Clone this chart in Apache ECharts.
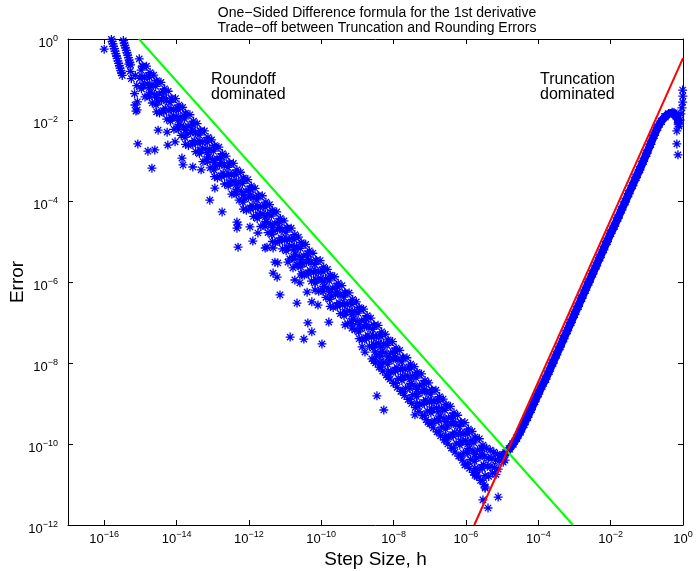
<!DOCTYPE html>
<html><head><meta charset="utf-8">
<script src="https://cdn.jsdelivr.net/npm/echarts@6/dist/echarts.min.js"></script>
<style>html,body{margin:0;padding:0;background:#fff}#c{width:698px;height:571px}</style>
</head><body><div id="c"></div>
<script>
// Values are decimal exponents: [log10(step size h), log10(error)]
// (the axes are logarithmic: 10^e)
const xTickExp = [-16,-14,-12,-10,-8,-6,-4,-2,0];
const yTickExp = [-12,-10,-8,-6,-4,-2,0];

const loneStar = [[-16.0,-0.25]];
const streakA = [[-15.8,-0.01],[-15.78,-0.06],[-15.76,-0.12],[-15.74,-0.18],[-15.72,-0.24],[-15.70,-0.30],[-15.68,-0.36],[-15.66,-0.42],[-15.64,-0.48],[-15.62,-0.54],[-15.60,-0.60],[-15.58,-0.66],[-15.56,-0.72],[-15.54,-0.78],[-15.52,-0.84],[-15.50,-0.9]];
const streakB = [[-15.47,-0.04],[-15.45,-0.1],[-15.43,-0.16],[-15.41,-0.22],[-15.39,-0.28],[-15.37,-0.34],[-15.35,-0.4],[-15.33,-0.46],[-15.31,-0.52],[-15.29,-0.58],[-15.27,-0.64]];
const roundStart = [[-15.32,-0.62],[-15.28,-0.8],[-15.25,-0.98],[-15.14,-0.9],[-15.1,-1.15],[-15.16,-1.35],[-15.08,-1.55],[-15.12,-1.78]];
const roundCore = [
[-15.03,-0.49],[-14.98,-0.77],[-15.01,-0.97],[-14.97,-1.23],
[-14.93,-0.67],[-14.88,-0.96],[-14.91,-1.15],[-14.87,-1.43],
[-14.83,-0.67],[-14.78,-0.9],[-14.81,-1.11],[-14.77,-1.37],
[-14.73,-0.83],[-14.68,-1.12],[-14.71,-1.31],[-14.67,-1.58],
[-14.63,-0.89],[-14.58,-1.17],[-14.61,-1.37],[-14.57,-1.63],
[-14.53,-1.07],[-14.48,-1.36],[-14.51,-1.55],[-14.47,-1.83],
[-14.43,-1.07],[-14.38,-1.3],[-14.41,-1.51],[-14.37,-1.77],
[-14.33,-1.23],[-14.28,-1.52],[-14.31,-1.71],[-14.27,-1.98],
[-14.23,-1.29],[-14.18,-1.57],[-14.21,-1.77],[-14.17,-2.03],
[-14.13,-1.47],[-14.08,-1.76],[-14.11,-1.95],[-14.07,-2.23],
[-14.03,-1.47],[-13.98,-1.7],[-14.01,-1.91],[-13.97,-2.17],
[-13.93,-1.63],[-13.88,-1.92],[-13.91,-2.11],[-13.87,-2.38],
[-13.83,-1.69],[-13.78,-1.97],[-13.81,-2.17],[-13.77,-2.43],
[-13.73,-1.87],[-13.68,-2.16],[-13.71,-2.35],[-13.67,-2.63],
[-13.63,-1.87],[-13.58,-2.1],[-13.61,-2.31],[-13.57,-2.57],
[-13.53,-2.03],[-13.48,-2.32],[-13.51,-2.51],[-13.47,-2.78],
[-13.43,-2.09],[-13.38,-2.37],[-13.41,-2.57],[-13.37,-2.83],
[-13.33,-2.27],[-13.28,-2.56],[-13.31,-2.75],[-13.27,-3.03],
[-13.23,-2.27],[-13.18,-2.5],[-13.21,-2.71],[-13.17,-2.97],
[-13.13,-2.43],[-13.08,-2.72],[-13.11,-2.91],[-13.07,-3.18],
[-13.03,-2.49],[-12.98,-2.77],[-13.01,-2.97],[-12.97,-3.23],
[-12.93,-2.67],[-12.88,-2.96],[-12.91,-3.15],[-12.87,-3.43],
[-12.83,-2.67],[-12.78,-2.9],[-12.81,-3.11],[-12.77,-3.37],
[-12.73,-2.83],[-12.68,-3.12],[-12.71,-3.31],[-12.67,-3.58],
[-12.63,-2.89],[-12.58,-3.17],[-12.61,-3.37],[-12.57,-3.63],
[-12.53,-3.07],[-12.48,-3.36],[-12.51,-3.55],[-12.47,-3.83],
[-12.43,-3.07],[-12.38,-3.3],[-12.41,-3.51],[-12.37,-3.77],
[-12.33,-3.23],[-12.28,-3.52],[-12.31,-3.71],[-12.27,-3.98],
[-12.23,-3.29],[-12.18,-3.57],[-12.21,-3.77],[-12.17,-4.03],
[-12.13,-3.47],[-12.08,-3.76],[-12.11,-3.95],[-12.07,-4.23],
[-12.03,-3.47],[-11.98,-3.7],[-12.01,-3.91],[-11.97,-4.17],
[-11.93,-3.63],[-11.88,-3.92],[-11.91,-4.11],[-11.87,-4.38],
[-11.83,-3.69],[-11.78,-3.97],[-11.81,-4.17],[-11.77,-4.43],
[-11.73,-3.87],[-11.68,-4.16],[-11.71,-4.35],[-11.67,-4.63],
[-11.63,-3.87],[-11.58,-4.1],[-11.61,-4.31],[-11.57,-4.57],
[-11.53,-4.03],[-11.48,-4.32],[-11.51,-4.51],[-11.47,-4.78],
[-11.43,-4.09],[-11.38,-4.37],[-11.41,-4.57],[-11.37,-4.83],
[-11.33,-4.27],[-11.28,-4.56],[-11.31,-4.75],[-11.27,-5.03],
[-11.23,-4.27],[-11.18,-4.5],[-11.21,-4.71],[-11.17,-4.97],
[-11.13,-4.43],[-11.08,-4.72],[-11.11,-4.91],[-11.07,-5.18],
[-11.03,-4.49],[-10.98,-4.77],[-11.01,-4.97],[-10.97,-5.23],
[-10.93,-4.67],[-10.88,-4.96],[-10.91,-5.15],[-10.87,-5.43],
[-10.83,-4.67],[-10.78,-4.9],[-10.81,-5.11],[-10.77,-5.37],
[-10.73,-4.83],[-10.68,-5.12],[-10.71,-5.31],[-10.67,-5.58],
[-10.63,-4.89],[-10.58,-5.17],[-10.61,-5.37],[-10.57,-5.63],
[-10.53,-5.07],[-10.48,-5.36],[-10.51,-5.55],[-10.47,-5.83],
[-10.43,-5.07],[-10.38,-5.3],[-10.41,-5.51],[-10.37,-5.77],
[-10.33,-5.23],[-10.28,-5.52],[-10.31,-5.71],[-10.27,-5.98],
[-10.23,-5.29],[-10.18,-5.57],[-10.21,-5.77],[-10.17,-6.03],
[-10.13,-5.47],[-10.08,-5.76],[-10.11,-5.95],[-10.07,-6.23],
[-10.03,-5.47],[-9.98,-5.7],[-10.01,-5.91],[-9.97,-6.17],
[-9.93,-5.63],[-9.88,-5.92],[-9.91,-6.11],[-9.87,-6.38],
[-9.83,-5.69],[-9.78,-5.97],[-9.81,-6.17],[-9.77,-6.43],
[-9.73,-5.87],[-9.68,-6.16],[-9.71,-6.35],[-9.67,-6.63],
[-9.63,-5.87],[-9.58,-6.1],[-9.61,-6.31],[-9.57,-6.57],
[-9.53,-6.03],[-9.48,-6.32],[-9.51,-6.51],[-9.47,-6.78],
[-9.43,-6.09],[-9.38,-6.37],[-9.41,-6.57],[-9.37,-6.83],
[-9.33,-6.27],[-9.28,-6.56],[-9.31,-6.75],[-9.27,-7.03],
[-9.23,-6.27],[-9.18,-6.5],[-9.21,-6.71],[-9.17,-6.97],
[-9.13,-6.43],[-9.08,-6.72],[-9.11,-6.91],[-9.07,-7.18],
[-9.03,-6.49],[-8.98,-6.77],[-9.01,-6.97],[-8.97,-7.23],
[-8.93,-6.67],[-8.88,-6.96],[-8.91,-7.15],[-8.87,-7.43],
[-8.83,-6.67],[-8.78,-6.9],[-8.81,-7.11],[-8.77,-7.37],
[-8.73,-6.83],[-8.68,-7.12],[-8.71,-7.31],[-8.67,-7.58],
[-8.63,-6.89],[-8.58,-7.17],[-8.61,-7.37],[-8.57,-7.63],[-8.6,-7.9],
[-8.53,-7.07],[-8.48,-7.36],[-8.51,-7.55],[-8.47,-7.83],[-8.5,-8.0],
[-8.43,-7.07],[-8.38,-7.3],[-8.41,-7.51],[-8.37,-7.77],[-8.4,-8.1],
[-8.33,-7.23],[-8.28,-7.52],[-8.31,-7.71],[-8.27,-7.98],[-8.3,-8.2],
[-8.23,-7.29],[-8.18,-7.57],[-8.21,-7.77],[-8.17,-8.03],[-8.2,-8.3],
[-8.13,-7.47],[-8.08,-7.76],[-8.11,-7.95],[-8.07,-8.23],[-8.1,-8.4],
[-8.03,-7.47],[-7.98,-7.7],[-8.01,-7.91],[-7.97,-8.17],[-8.0,-8.5],
[-7.93,-7.63],[-7.88,-7.92],[-7.91,-8.11],[-7.87,-8.38],[-7.9,-8.6],
[-7.83,-7.69],[-7.78,-7.97],[-7.81,-8.17],[-7.77,-8.43],[-7.8,-8.7],
[-7.73,-7.87],[-7.68,-8.16],[-7.71,-8.35],[-7.67,-8.63],[-7.7,-8.8],
[-7.63,-7.87],[-7.58,-8.1],[-7.61,-8.31],[-7.57,-8.57],[-7.6,-8.9],
[-7.53,-8.03],[-7.48,-8.32],[-7.51,-8.51],[-7.47,-8.78],[-7.5,-9.0],
[-7.43,-8.09],[-7.38,-8.37],[-7.41,-8.57],[-7.37,-8.83],[-7.4,-9.1],
[-7.33,-8.27],[-7.28,-8.56],[-7.31,-8.75],[-7.27,-9.03],[-7.3,-9.2],
[-7.23,-8.27],[-7.18,-8.5],[-7.21,-8.71],[-7.17,-8.97],[-7.2,-9.3],
[-7.13,-8.43],[-7.08,-8.72],[-7.11,-8.91],[-7.07,-9.18],[-7.1,-9.4],
[-7.03,-8.49],[-6.98,-8.77],[-7.01,-8.97],[-6.97,-9.23],[-7.0,-9.5],
[-6.93,-8.67],[-6.88,-8.96],[-6.91,-9.15],[-6.87,-9.43],[-6.9,-9.6],
[-6.83,-8.67],[-6.78,-8.9],[-6.81,-9.11],[-6.77,-9.37],[-6.8,-9.7],
[-6.73,-8.83],[-6.68,-9.12],[-6.71,-9.31],[-6.67,-9.58],[-6.7,-9.8],
[-6.63,-8.89],[-6.58,-9.17],[-6.61,-9.37],[-6.57,-9.63],[-6.6,-9.9],
[-6.53,-9.07],[-6.48,-9.36],[-6.51,-9.55],[-6.47,-9.83],[-6.5,-10.0],
[-6.43,-9.07],[-6.38,-9.3],[-6.41,-9.51],[-6.37,-9.77],[-6.4,-10.1],
[-6.33,-9.23],[-6.28,-9.52],[-6.31,-9.71],[-6.27,-9.98],[-6.3,-10.2],
[-6.23,-9.29],[-6.18,-9.57],[-6.21,-9.77],[-6.17,-10.03],[-6.2,-10.3],
[-6.13,-9.47],[-6.08,-9.76],[-6.11,-9.95],[-6.07,-10.23],[-6.1,-10.4],
[-6.03,-9.47],[-5.98,-9.7],[-6.01,-9.91],[-5.97,-10.17],[-6.0,-10.5],
[-5.93,-9.63],[-5.88,-9.92],[-5.91,-10.11],[-5.87,-10.38],[-5.9,-10.6],
[-5.83,-9.69],[-5.78,-9.97],[-5.81,-10.17],[-5.77,-10.43],[-5.8,-10.7],
[-5.73,-9.87],[-5.68,-10.16],[-5.71,-10.35],[-5.67,-10.63],[-5.7,-10.8],
[-5.63,-9.87],[-5.58,-10.1],[-5.61,-10.31],[-5.57,-10.57],[-5.6,-10.9],
[-5.53,-10.03],[-5.48,-10.32],[-5.51,-10.51],[-5.47,-10.78],[-5.5,-11.0],
[-5.43,-10.1],[-5.38,-10.35],[-5.41,-10.55],[-5.37,-10.8],
[-5.33,-10.15],[-5.28,-10.35],[-5.31,-10.55],[-5.27,-10.72],
[-5.23,-10.2],[-5.18,-10.4],[-5.21,-10.58],[-5.17,-10.75],
[-5.13,-10.25],[-5.08,-10.42],[-5.11,-10.62],
[-5.02,-10.3],[-4.97,-10.45],[-4.92,-10.4]
];
const roundFill = [
[-14.95,-0.67],[-14.95,-0.93],[-14.95,-1.15],
[-14.75,-0.95],[-14.75,-1.2],[-14.75,-1.43],
[-14.55,-1.03],[-14.55,-1.45],[-14.55,-1.8],
[-14.35,-1.31],[-14.35,-1.45],[-14.35,-1.8],
[-14.15,-1.47],[-14.15,-1.73],[-14.15,-1.95],
[-13.95,-1.75],[-13.95,-2.0],[-13.95,-2.23],
[-13.75,-1.83],[-13.75,-2.25],[-13.75,-2.6],
[-13.55,-2.11],[-13.55,-2.25],[-13.55,-2.6],
[-13.35,-2.27],[-13.35,-2.53],[-13.35,-2.75],
[-13.15,-2.55],[-13.15,-2.8],[-13.15,-3.03],
[-12.95,-2.63],[-12.95,-3.05],[-12.95,-3.4],
[-12.75,-2.91],[-12.75,-3.05],[-12.75,-3.4],
[-12.55,-3.07],[-12.55,-3.33],[-12.55,-3.55],
[-12.35,-3.35],[-12.35,-3.6],[-12.35,-3.83],
[-12.15,-3.43],[-12.15,-3.85],[-12.15,-4.2],
[-11.95,-3.71],[-11.95,-3.85],[-11.95,-4.2],
[-11.75,-3.87],[-11.75,-4.13],[-11.75,-4.35],
[-11.55,-4.15],[-11.55,-4.4],[-11.55,-4.63],
[-11.35,-4.23],[-11.35,-4.65],[-11.35,-5.0],
[-11.15,-4.51],[-11.15,-4.65],[-11.15,-5.0],
[-10.95,-4.67],[-10.95,-4.93],[-10.95,-5.15],
[-10.75,-4.95],[-10.75,-5.2],[-10.75,-5.43],
[-10.55,-5.03],[-10.55,-5.45],[-10.55,-5.8],
[-10.35,-5.31],[-10.35,-5.45],[-10.35,-5.8],
[-10.15,-5.47],[-10.15,-5.73],[-10.15,-5.95],
[-9.95,-5.75],[-9.95,-6.0],[-9.95,-6.23],
[-9.75,-5.83],[-9.75,-6.25],[-9.75,-6.6],
[-9.55,-6.11],[-9.55,-6.25],[-9.55,-6.6],
[-9.35,-6.27],[-9.35,-6.53],[-9.35,-6.75],
[-9.15,-6.55],[-9.15,-6.8],[-9.15,-7.03],
[-8.95,-6.63],[-8.95,-7.05],[-8.95,-7.4],
[-8.75,-6.91],[-8.75,-7.05],[-8.75,-7.4],
[-8.55,-7.07],[-8.55,-7.33],[-8.55,-7.55],[-8.55,-7.95],
[-8.35,-7.35],[-8.35,-7.6],[-8.35,-7.83],[-8.35,-8.1],
[-8.15,-7.43],[-8.15,-7.85],[-8.15,-8.2],[-8.15,-8.35],
[-7.95,-7.71],[-7.95,-7.85],[-7.95,-8.2],[-7.95,-8.5],
[-7.75,-7.87],[-7.75,-8.13],[-7.75,-8.35],[-7.75,-8.7],
[-7.55,-8.15],[-7.55,-8.4],[-7.55,-8.63],[-7.55,-8.9],
[-7.35,-8.23],[-7.35,-8.65],[-7.35,-9.0],[-7.35,-9.05],
[-7.15,-8.51],[-7.15,-8.65],[-7.15,-9.0],[-7.15,-9.3],
[-6.95,-8.67],[-6.95,-8.93],[-6.95,-9.15],[-6.95,-9.5],
[-6.75,-8.95],[-6.75,-9.2],[-6.75,-9.43],[-6.75,-9.7],
[-6.55,-9.03],[-6.55,-9.45],[-6.55,-9.8],[-6.55,-9.9],
[-6.35,-9.31],[-6.35,-9.45],[-6.35,-9.8],[-6.35,-10.1],
[-6.15,-9.47],[-6.15,-9.73],[-6.15,-9.95],[-6.15,-10.3],
[-5.95,-9.75],[-5.95,-10.0],[-5.95,-10.23],[-5.95,-10.5],
[-5.75,-9.83],[-5.75,-10.25],[-5.75,-10.6],[-5.75,-10.7],
[-5.55,-10.11],[-5.55,-10.25],[-5.55,-10.6],[-5.55,-10.9]
];
const roundLower = [[-11.50,-5.14],[-11.33,-5.16],[-11.28,-5.51],[-11.20,-5.53],[-10.92,-5.51],[-10.78,-5.65],[-10.64,-5.58],[-10.53,-5.83],[-10.26,-6.49],[-10.09,-6.57],
[-9.34,-7.06],[-9.15,-7.14],[-8.87,-7.6],[-8.79,-7.73],[-8.51,-7.73],[-8.38,-7.98]];
const roundOutliers = [[-15.15,-1.63],[-15.09,-1.75],[-15.07,-2.59],[-14.79,-2.77],[-14.60,-2.74],[-14.68,-3.19],[-14.51,-2.25],[-14.26,-2.30],[-14.24,-2.62],[-14.04,-2.54],[-13.85,-2.94],[-13.82,-3.11],[-13.55,-3.16],[-13.32,-3.23],[-13.08,-3.98],[-12.94,-3.68],[-12.74,-4.27],[-12.33,-4.52],[-12.33,-4.67],
[-12.30,-5.14],[-12.30,-4.59],[-11.97,-4.64],[-11.75,-4.79],[-11.89,-4.99],[-11.55,-5.16],[-11.33,-5.78],[-11.22,-5.88],[-11.14,-6.32],[-10.67,-6.52],[-10.73,-5.95],[-10.59,-6.02],[-10.37,-7.01],[-10.26,-7.23],[-10.48,-7.41],[-10.86,-7.36],[-9.98,-7.53],[-9.79,-6.99],[-10.39,-6.25],[-10.17,-6.20],
[-8.46,-8.81],[-8.27,-9.16],[-7.41,-9.28],[-7.05,-9.46],[-6.58,-9.83],[-6.03,-10.52],[-5.75,-10.77],[-5.47,-11.06],[-5.70,-10.77],[-5.53,-11.38],[-5.39,-11.58],[-5.11,-11.31],[-5.47,-11.09]];
const truncCurve = [[-5.0,-10.3],[-4.9,-10.22],[-4.8,-10.12],[-4.7,-10.0],[-4.6,-9.86],[-4.5,-9.7],[-4.4,-9.52],[-4.3,-9.34],[-4.2,-9.15],[-4.1,-8.95],[-4.0,-8.76],[-3.9,-8.57],[-3.8,-8.4],[-3.7,-8.2],[-3.6,-8.0],[-3.5,-7.8],[-3.4,-7.6],[-3.3,-7.4],[-3.2,-7.2],[-3.1,-7.0],[-3.0,-6.8],[-2.9,-6.6],[-2.8,-6.4],[-2.7,-6.2],[-2.6,-6.0],[-2.5,-5.8],[-2.4,-5.6],[-2.3,-5.4],[-2.2,-5.2],[-2.1,-5.0],[-2.0,-4.8],[-1.9,-4.62],[-1.8,-4.42],[-1.7,-4.22],[-1.6,-4.02],[-1.5,-3.82],[-1.4,-3.62],[-1.3,-3.42],[-1.2,-3.23],[-1.1,-3.02],[-1.0,-2.82],[-0.9,-2.6],[-0.8,-2.38],[-0.7,-2.18],[-0.6,-2.03],[-0.5,-1.92],[-0.4,-1.85],[-0.3,-1.82],[-0.25,-1.83],[-0.2,-1.88],[-0.15,-1.98],[-0.12,-2.1]];
const truncTail = [[-0.01,-1.26],[-0.005,-1.41],[-0.01,-1.56],[-0.03,-1.7],[-0.06,-1.85],[-0.08,-2.0],[-0.11,-2.15],[-0.17,-2.27],[-0.17,-2.59],[-0.14,-2.86]];
const roundoffBound = [[-15.04,0],[-3.04,-12]];
const truncationBound = [[-5.77,-12],[0,-0.47]];

const FONT = 'Liberation Sans, Arial, Helvetica, sans-serif';
const expFmt = v => { const e = Math.round(v); return '{b|10}{s|' + (e < 0 ? '\u2212' + (-e) : '' + e) + '}'; };
const rich = {
  b: {fontSize: 13, lineHeight: 18, fontFamily: FONT, color: '#000'},
  s: {fontSize: 9, lineHeight: 9, verticalAlign: 'top', fontFamily: FONT, color: '#000'}
};
const STAR = 'path://M5,0L5,10M0,5L10,5M1.5,1.5L8.5,8.5M1.5,8.5L8.5,1.5';
const axisLine = {show: true, onZero: false, lineStyle: {color: '#000', width: 1}};
const tick = vals => ({show: true, inside: true, length: 5, customValues: vals, lineStyle: {color: '#000', width: 1}});
const baseX = {type: 'value', min: -17, max: 0, axisLine, axisTick: tick(xTickExp), splitLine: {show: false}, minorTick: {show: false}};
const baseY = {type: 'value', min: -12, max: 0, axisLine, axisTick: tick(yTickExp), splitLine: {show: false}, minorTick: {show: false}};

const chart = echarts.init(document.getElementById('c'), null, {renderer: 'canvas'});
chart.setOption({
  animation: false,
  backgroundColor: '#fff',
  textStyle: {fontFamily: FONT},
  grid: {left: 68, right: 15, top: 39, bottom: 46, containLabel: false, outerBoundsMode: 'none'},
  xAxis: [
    Object.assign({}, baseX, {position: 'bottom',
     axisLabel: {customValues: xTickExp, margin: 5, formatter: expFmt, rich},
     name: 'Step Size, h', nameLocation: 'middle', nameGap: 24,
     nameTextStyle: {fontSize: 19, color: '#000', fontFamily: FONT}}),
    Object.assign({}, baseX, {position: 'top', axisLabel: {show: false}})
  ],
  yAxis: [
    Object.assign({}, baseY, {position: 'left',
     axisLabel: {customValues: yTickExp, margin: 10, padding: [8, 0, 0, 0], formatter: expFmt, rich},
     name: 'Error', nameLocation: 'middle', nameGap: 41, nameMoveOverlap: false,
     nameTextStyle: {fontSize: 19, color: '#000', fontFamily: FONT}}),
    Object.assign({}, baseY, {position: 'right', axisLabel: {show: false}})
  ],
  graphic: [
    {type: 'text', x: 377, y: 13, silent: true, style: {text: 'One\u2212Sided Difference formula for the 1st derivative', fontSize: 14, fontFamily: FONT, fill: '#000', align: 'center', verticalAlign: 'middle'}},
    {type: 'text', x: 377, y: 28, silent: true, style: {text: 'Trade\u2212off between Truncation and Rounding Errors', fontSize: 14, fontFamily: FONT, fill: '#000', align: 'center', verticalAlign: 'middle'}},
    {type: 'text', x: 211, y: 72, silent: true, style: {text: 'Roundoff\ndominated', fontSize: 16, lineHeight: 15, fontFamily: FONT, fill: '#000', align: 'left', verticalAlign: 'top'}},
    {type: 'text', x: 540, y: 72, silent: true, style: {text: 'Truncation\ndominated', fontSize: 16, lineHeight: 15, fontFamily: FONT, fill: '#000', align: 'left', verticalAlign: 'top'}}
  ],
  series: [
    {type: 'scatter', name: 'error', silent: true, z: 2,
     data: [].concat(loneStar, streakA, streakB, roundStart, roundCore, roundFill, roundLower, roundOutliers, truncTail),
     symbol: STAR, symbolSize: 9,
     itemStyle: {color: '#0000ff', borderColor: '#0000ff', borderWidth: 1.3, opacity: 1}},
    {type: 'line', name: 'error (truncation)', silent: true, z: 2, data: truncCurve,
     symbol: STAR, symbolSize: 10, showSymbol: true,
     lineStyle: {color: '#0000ff', width: 8},
     itemStyle: {color: '#0000ff', borderColor: '#0000ff', borderWidth: 1.3}},
    {type: 'line', name: 'roundoff bound', silent: true, z: 3, data: roundoffBound, symbol: 'none',
     lineStyle: {color: '#00ff00', width: 2}},
    {type: 'line', name: 'truncation bound', silent: true, z: 3, data: truncationBound, symbol: 'none',
     lineStyle: {color: '#ff0000', width: 2}}
  ]
});
</script>
</body></html>
